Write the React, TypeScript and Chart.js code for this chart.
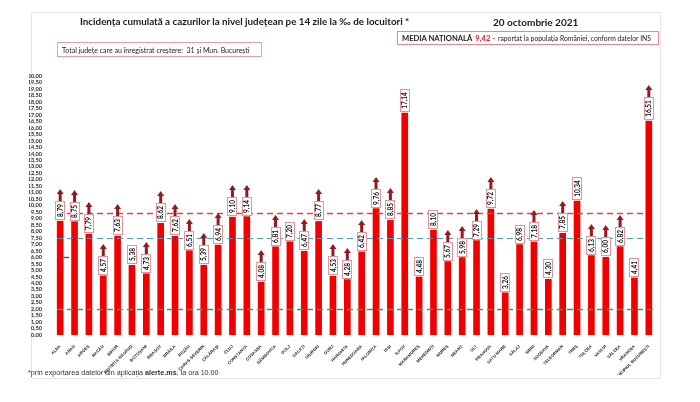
import React, { useEffect, useRef } from "react";
import { Chart, registerables } from "chart.js";

Chart.register(...registerables);

const counties = [
  "ALBA", "ARAD", "ARGEȘ", "BACĂU", "BIHOR", "BISTRIȚA-NĂSĂUD", "BOTOȘANI", "BRAȘOV", "BRĂILA", "BUZĂU",
  "CARAȘ-SEVERIN", "CĂLĂRAȘI", "CLUJ", "CONSTANȚA", "COVASNA", "DÂMBOVIȚA", "DOLJ", "GALAȚI", "GIURGIU", "GORJ",
  "HARGHITA", "HUNEDOARA", "IALOMIȚA", "IAȘI", "ILFOV", "MARAMUREȘ", "MEHEDINȚI", "MUREȘ", "NEAMȚ", "OLT",
  "PRAHOVA", "SATU MARE", "SĂLAJ", "SIBIU", "SUCEAVA", "TELEORMAN", "TIMIȘ", "TULCEA", "VASLUI", "VÂLCEA",
  "VRANCEA", "MUNICIPIUL BUCUREȘTI",
];

const incidence = [
  8.79, 8.75, 7.79, 4.57, 7.63, 5.38, 4.73, 8.62, 7.62, 6.51,
  5.39, 6.94, 9.10, 9.14, 4.08, 6.81, 7.20, 6.47, 8.77, 4.53,
  4.28, 6.42, 9.76, 8.85, 17.14, 4.48, 8.10, 5.67, 5.98, 7.29,
  9.72, 3.26, 6.98, 7.18, 4.30, 7.85, 10.34, 6.13, 6.00, 6.82,
  4.41, 16.51,
];

// 1 = increase versus previous day (arrow shown)
const increased = [
  1, 1, 1, 1, 1, 0, 1, 1, 1, 1,
  1, 1, 1, 1, 1, 1, 0, 1, 1, 1,
  1, 1, 1, 1, 0, 0, 0, 1, 1, 1,
  1, 0, 0, 1, 0, 1, 0, 1, 1, 1,
  0, 1,
];

const nationalAverage = 9.42;
const blueReference = 7.5;
const greenReference = 2.0;
const blueMarker = 6.0;
const yMin = 0;
const yMax = 20;
const yStep = 0.5;

const fmt = (v: number) => Number(v).toFixed(2).replace(".", ",");

const overlayPlugin = {
  id: "overlay",
  afterDatasetsDraw(chart: any) {
    const ctx: CanvasRenderingContext2D = chart.ctx;
    const xs = chart.scales.x;
    const ys = chart.scales.y;
    const area = chart.chartArea;
    ctx.save();
    // dashed reference lines
    const lines = [
      { v: nationalAverage, color: "#d8474f", w: 1.5, x0: area.left + 4, x1: area.right - 9 },
      { v: blueReference, color: "#4f98c4", w: 1.2, x0: area.left + 4, x1: area.right - 9 },
      { v: greenReference, color: "#3c9a5e", w: 1.3, x0: area.left + 4, x1: area.right },
    ];
    ctx.setLineDash([6, 4]);
    lines.forEach((l) => {
      const py = Math.round(ys.getPixelForValue(l.v)) + 0.5;
      ctx.strokeStyle = l.color;
      ctx.lineWidth = l.w;
      ctx.beginPath();
      ctx.moveTo(l.x0, py);
      ctx.lineTo(l.x1, py);
      ctx.stroke();
    });
    ctx.setLineDash([]);
    // small blue marker
    const mx = xs.getPixelForValue(0);
    const my = Math.round(ys.getPixelForValue(blueMarker)) + 0.5;
    ctx.strokeStyle = "#2c6cae";
    ctx.lineWidth = 1.5;
    ctx.beginPath();
    ctx.moveTo(mx + 2, my);
    ctx.lineTo(mx + 9, my);
    ctx.stroke();

    // value boxes and arrows
    const meta = chart.getDatasetMeta(0);
    ctx.font = "bold 6.5px Lato";
    meta.data.forEach((bar: any, i: number) => {
      const txt = fmt(incidence[i]);
      const tw = ctx.measureText(txt).width;
      const bw = 10;
      const bh = Math.round(tw + 6);
      const bx = Math.round(bar.x - bw / 2);
      const by = Math.round(bar.y - 1 - bh);
      ctx.fillStyle = "#ffffff";
      ctx.fillRect(bx, by, bw, bh);
      ctx.strokeStyle = "#e2959b";
      ctx.lineWidth = 1;
      ctx.strokeRect(bx + 0.5, by + 0.5, bw - 1, bh - 1);
      ctx.save();
      ctx.translate(bar.x, by + bh / 2);
      ctx.rotate(-Math.PI / 2);
      ctx.fillStyle = "#111111";
      ctx.textAlign = "center";
      ctx.textBaseline = "middle";
      ctx.fillText(txt, 0, 0.5);
      ctx.restore();
      if (increased[i]) {
        const cx = bar.x;
        ctx.fillStyle = "#931b1f";
        ctx.fillRect(cx - 1.5, by - 8, 3, 8);
        ctx.beginPath();
        ctx.moveTo(cx - 3.5, by - 7);
        ctx.lineTo(cx + 3.5, by - 7);
        ctx.lineTo(cx, by - 12);
        ctx.closePath();
        ctx.fill();
      }
    });
    ctx.restore();
  },
};

function IncidenceChart() {
  const ref = useRef<HTMLCanvasElement | null>(null);
  useEffect(() => {
    if (!ref.current) return;
    const chart = new Chart(ref.current, {
      type: "bar",
      data: {
        labels: counties,
        datasets: [
          {
            data: incidence,
            backgroundColor: "#f20000",
            borderWidth: 0,
            barThickness: 6,
          },
        ],
      },
      options: {
        responsive: false,
        animation: false,
        devicePixelRatio: 1,
        layout: { padding: { left: 29, right: 44, top: 76, bottom: 27 } },
        plugins: { legend: { display: false }, tooltip: { enabled: false } },
        scales: {
          x: {
            grid: { display: false },
            border: { display: false },
            ticks: {
              autoSkip: false,
              maxRotation: 45,
              minRotation: 45,
              padding: 1,
              color: "#222222",
              font: { size: 4.2, family: "Liberation Sans", weight: "bold" },
            },
            afterFit: (s: any) => {
              s.height = 40;
            },
          },
          y: {
            min: yMin,
            max: yMax,
            grid: { display: false },
            border: { display: false },
            ticks: {
              stepSize: yStep,
              autoSkip: false,
              padding: 3,
              color: "#2a2a2a",
              font: { size: 5.6, family: "Lato", weight: "bold" },
              callback: (v: any) => fmt(v),
            },
            afterFit: (s: any) => {
              s.width = 24;
            },
          },
        },
      },
      plugins: [overlayPlugin],
    } as any);
    return () => chart.destroy();
  }, []);
  return <canvas ref={ref} width={700} height={402} style={{ position: "absolute", left: 0, top: 0, width: 700, height: 402 }} />;
}

export default function App() {
  return (
    <div style={{ position: "fixed", left: 0, top: 0, width: 700, height: 402, background: "#fff", overflow: "hidden" }}>
      <div style={{ position: "absolute", left: 31, top: 12, width: 630, height: 367, border: "1px solid #e6e6e6", boxSizing: "border-box" }} />
      <IncidenceChart />
      <div style={{ position: "absolute", left: 80, top: 15, fontFamily: "Lato", fontWeight: 700, fontSize: 9.8, color: "#1a1a1a", whiteSpace: "nowrap", lineHeight: "13px" }}>
        Incidența cumulată a cazurilor la nivel județean pe 14 zile la ‰ de locuitori *
      </div>
      <div style={{ position: "absolute", left: 493, top: 16, fontFamily: "Lato", fontWeight: 700, fontSize: 10, color: "#1a1a1a", whiteSpace: "nowrap", lineHeight: "13px" }}>
        20 octombrie 2021
      </div>
      <div style={{ position: "absolute", left: 397, top: 31, width: 262, height: 14, border: "1px solid #e08a90", boxSizing: "border-box", display: "flex", alignItems: "center", paddingLeft: 4, fontFamily: "Lato", whiteSpace: "nowrap", color: "#222" }}>
        <span style={{ fontWeight: 700, fontSize: 7.6 }}>MEDIA NAȚIONALĂ</span>
        <span style={{ fontWeight: 700, fontSize: 7.6, color: "#e0202a", marginLeft: 3 }}>9,42 -</span>
        <span style={{ fontSize: 6.8, marginLeft: 3 }}>raportat la populația României, conform datelor INS</span>
      </div>
      <div style={{ position: "absolute", left: 57, top: 42, width: 205, height: 15, border: "1px solid #e6a0a6", boxSizing: "border-box", display: "flex", alignItems: "center", paddingLeft: 4, fontFamily: "Lato", fontSize: 7, color: "#222", whiteSpace: "nowrap" }}>
        Total județe care au înregistrat creștere:&nbsp; 31 și Mun. București
      </div>
      <div style={{ position: "absolute", left: 28, top: 368, fontFamily: "Liberation Sans", fontSize: 7.2, color: "#333", whiteSpace: "nowrap", lineHeight: "10px" }}>
        *prin exportarea datelor din aplicația <b>alerte.ms</b>, la ora 10.00
      </div>
    </div>
  );
}
